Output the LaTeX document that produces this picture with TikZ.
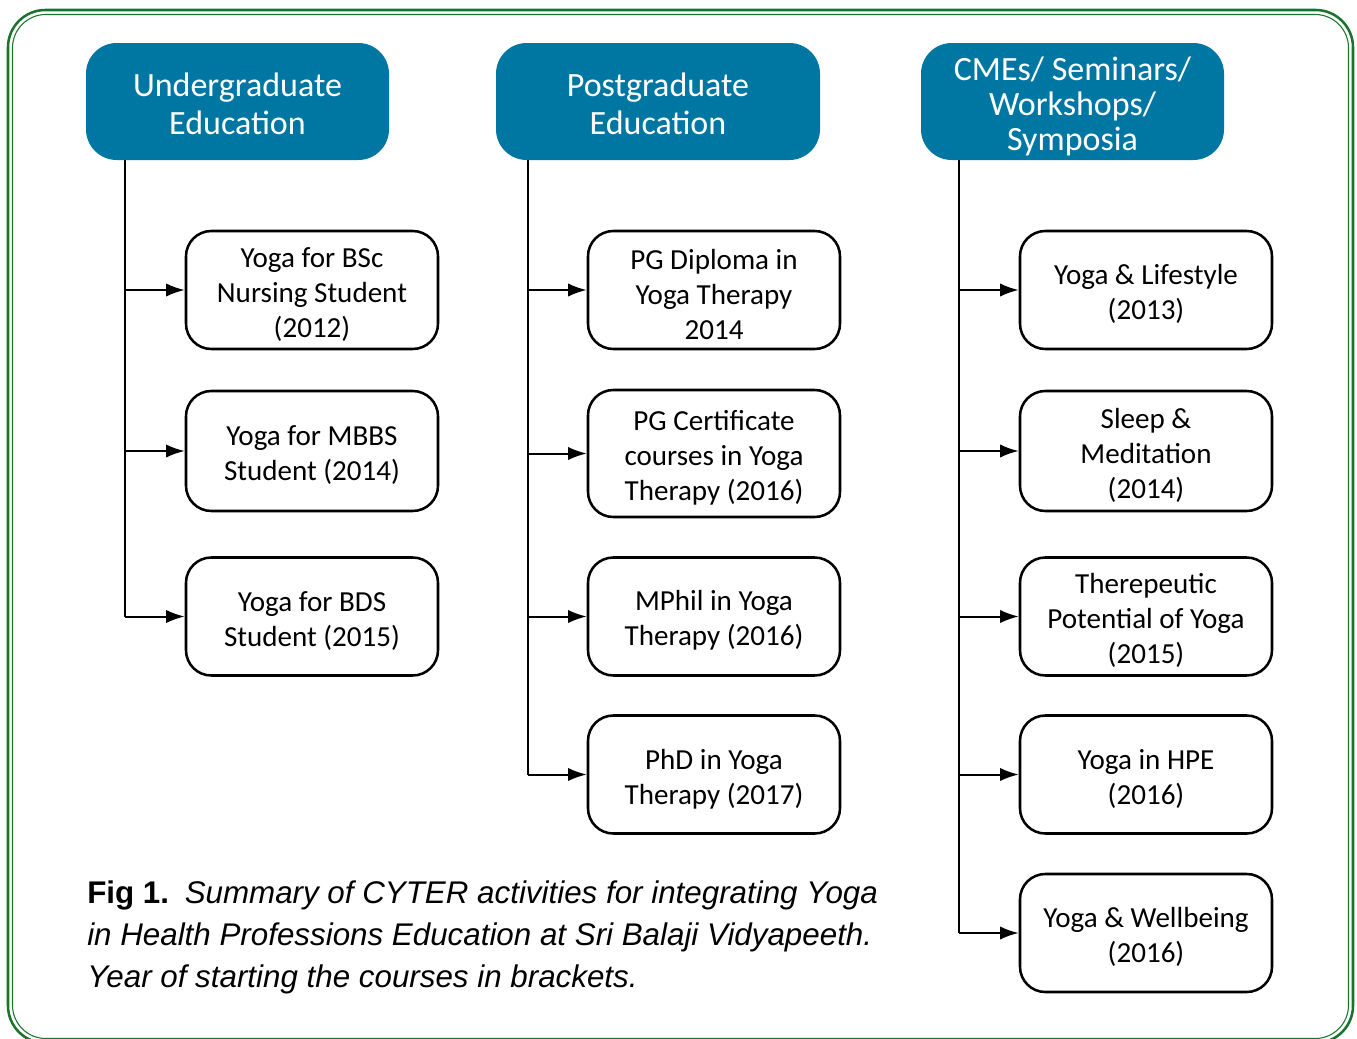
\documentclass[tikz,border=0pt]{standalone}
\usepackage{fontspec}
\setmainfont{Carlito}
\newfontfamily\capfont{Liberation Sans}
\usetikzlibrary{arrows.meta}
\definecolor{hdrblue}{RGB}{0,119,163}
\definecolor{framegreen}{RGB}{25,115,45}
\newcommand{\bx}{\rule{0pt}{21.5pt}}
\newcommand{\hx}{\rule{0pt}{21.5pt}}
\newcommand{\hy}{\rule{0pt}{25pt}}
\begin{document}
\begin{tikzpicture}[x=0.75pt,y=-0.75pt,
  hdr/.style={fill=hdrblue, rounded corners=23pt, text=white, align=center, inner sep=0pt,
    minimum height=87.75pt, font=\fontsize{25.5}{28.5}\selectfont},
  itembox/.style={draw, line width=1.9pt, rounded corners=19pt, align=center, inner sep=0pt,
    minimum width=189pt, minimum height=88.5pt, font=\fontsize{21.8}{26.25}\selectfont},
  conn/.style={line width=1.5pt},
  arr/.style={line width=1.5pt, -{Latex[length=14pt,width=10pt]}}
]
\useasboundingbox (0,0) rectangle (1357,1039);
% frame
\draw[framegreen, line width=1.9pt, rounded corners=28pt] (8,10) rectangle (1353,1043);
\draw[framegreen, line width=0.8pt, rounded corners=25pt] (12.5,14.5) rectangle (1348.5,1038.5);

% headers
\node[hdr, minimum width=227.25pt] (h1) at (237.5,101.5) {\hx Undergraduate\\Education};
\node[hdr, minimum width=243pt] (h2) at (658,101.5) {\hx Postgraduate\\Education};
\node[hdr, minimum width=227.25pt, font=\fontsize{25.5}{26.25}\selectfont] (h3) at (1072.5,101.5) {\hy CMEs/ Seminars/\\Workshops/\\Symposia};

\coordinate (t1) at (125,160);
\coordinate (t2) at (528,160);
\coordinate (t3) at (959,160);

% column 1
\node[itembox] (a1) at (312,290) {\bx Yoga for BSc\\Nursing Student\\(2012)};
\node[itembox, minimum height=90pt] (a2) at (312,451) {\bx Yoga for MBBS\\Student (2014)};
\node[itembox] (a3) at (312,616.5) {\bx Yoga for BDS\\Student (2015)};

% column 2
\node[itembox] (b1) at (714,290) {\bx PG Diploma in\\Yoga Therapy\\2014};
\node[itembox, minimum height=95.25pt] (b2) at (714,453.5) {\bx PG Certificate\\courses in Yoga\\Therapy (2016)};
\node[itembox] (b3) at (714,616.5) {\bx MPhil in Yoga\\Therapy (2016)};
\node[itembox] (b4) at (714,774.5) {\bx PhD in Yoga\\Therapy (2017)};

% column 3
\node[itembox] (c1) at (1146,290) {\bx Yoga \& Lifestyle\\(2013)};
\node[itembox, minimum height=90pt] (c2) at (1146,451) {\bx Sleep \&\\Meditation\\(2014)};
\node[itembox] (c3) at (1146,616.5) {\bx Therepeutic\\Potential of Yoga\\(2015)};
\node[itembox] (c4) at (1146,774.5) {\bx Yoga in HPE\\(2016)};
\node[itembox] (c5) at (1146,933) {\bx Yoga \& Wellbeing\\(2016)};

% connectors
\draw[conn] (t1) -- (t1 |- a3.west);
\draw[arr] (t1 |- a1.west) -- (a1.west);
\draw[arr] (t1 |- a2.west) -- (a2.west);
\draw[arr] (t1 |- a3.west) -- (a3.west);

\draw[conn] (t2) -- (t2 |- b4.west);
\draw[arr] (t2 |- b1.west) -- (b1.west);
\draw[arr] (t2 |- b2.west) -- (b2.west);
\draw[arr] (t2 |- b3.west) -- (b3.west);
\draw[arr] (t2 |- b4.west) -- (b4.west);

\draw[conn] (t3) -- (t3 |- c5.west);
\draw[arr] (t3 |- c1.west) -- (c1.west);
\draw[arr] (t3 |- c2.west) -- (c2.west);
\draw[arr] (t3 |- c3.west) -- (c3.west);
\draw[arr] (t3 |- c4.west) -- (c4.west);
\draw[arr] (t3 |- c5.west) -- (c5.west);

% caption
\node[anchor=north west, inner sep=0pt, align=left, font=\capfont\fontsize{23.5}{31.5}\selectfont] (cap) at (87,881)
  {\textbf{Fig 1.}\hspace{0.5em}\textit{Summary of CYTER activities for integrating Yoga}\\
   \textit{in Health Professions Education at Sri Balaji Vidyapeeth.}\\
   \textit{Year of starting the courses in brackets.}};
\end{tikzpicture}
\end{document}
